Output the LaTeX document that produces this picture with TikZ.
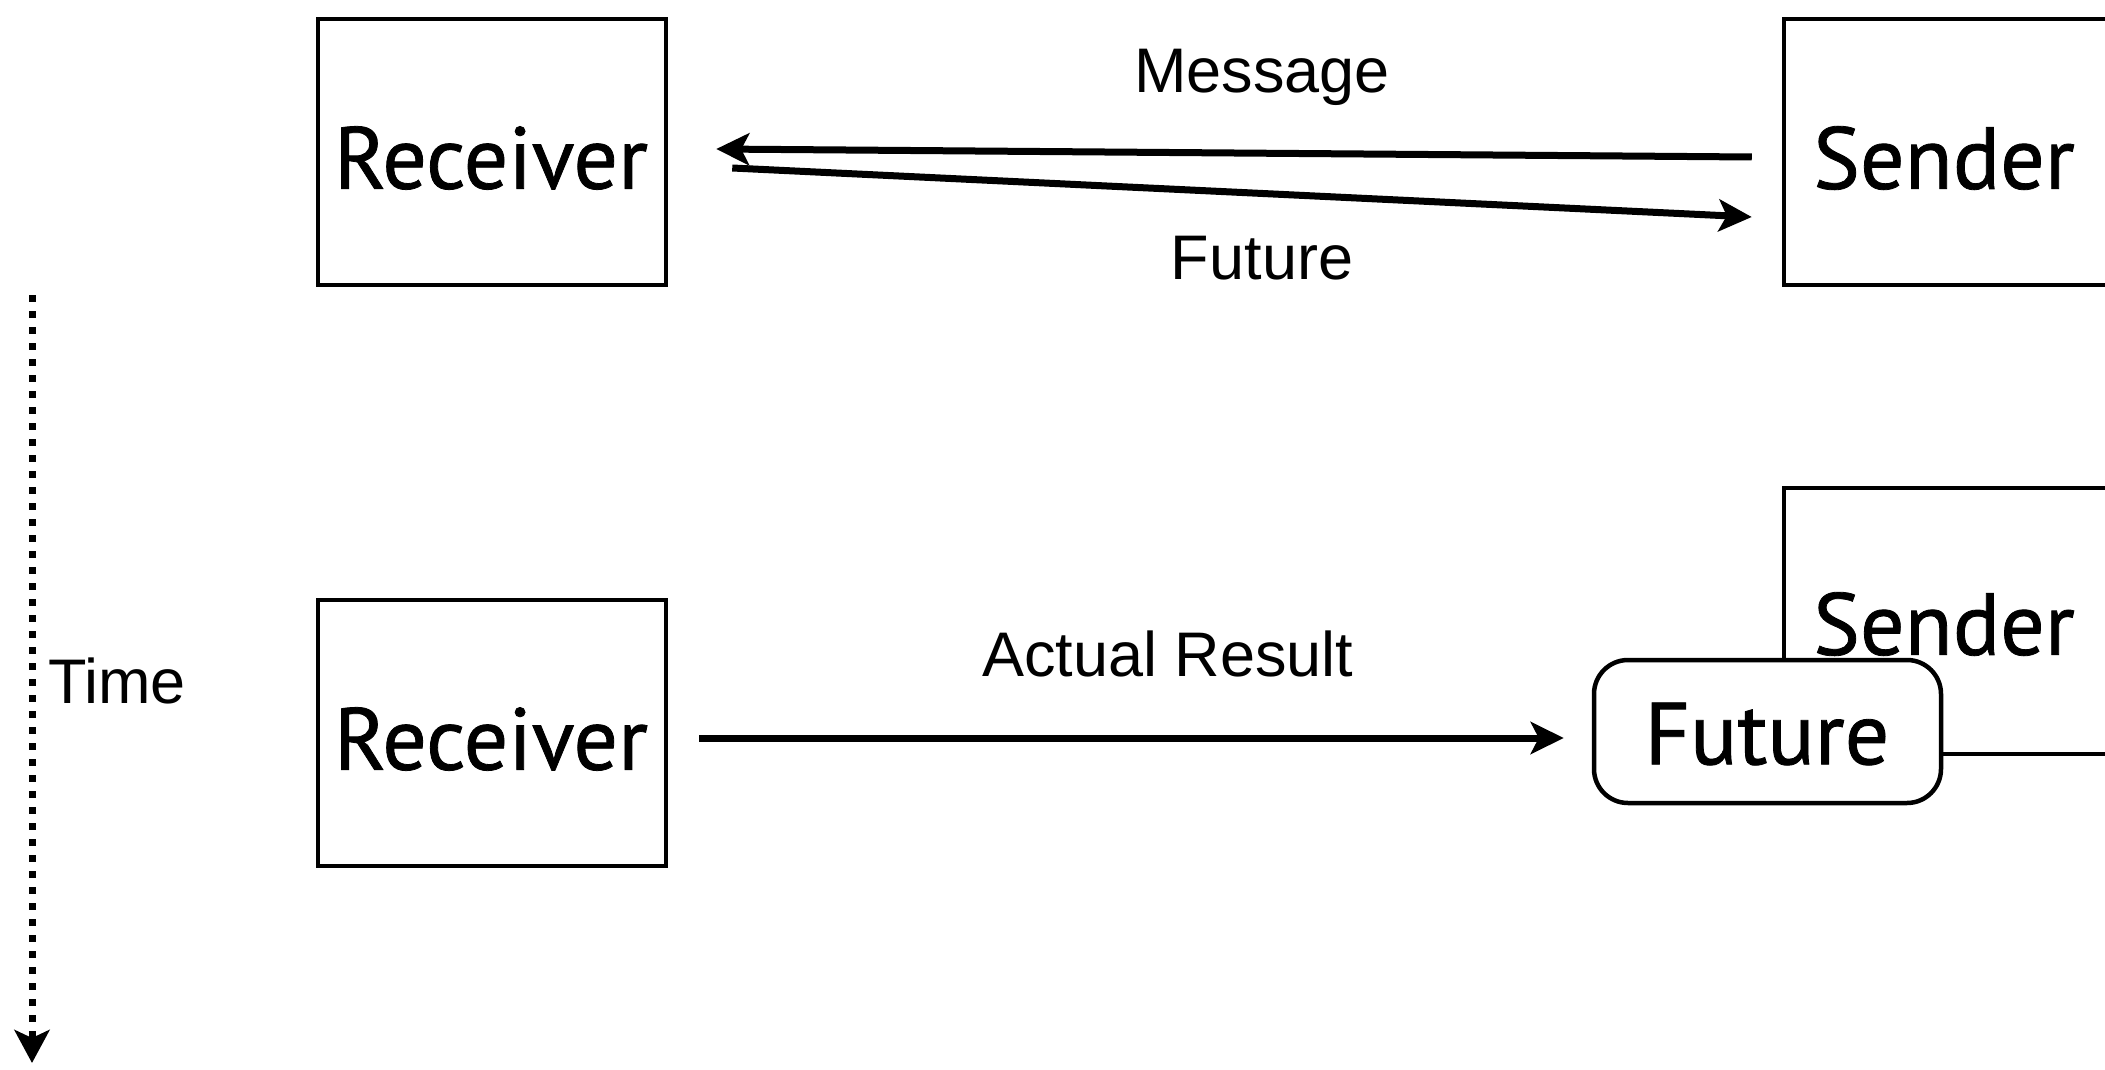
\documentclass[tikz,border=0pt]{standalone}
\usepackage{fontspec}
\setmainfont{Liberation Sans}
\newfontfamily\gillfont[FakeBold=0.9]{PT Sans}
\usetikzlibrary{arrows.meta,calc}
\tikzset{
  boxst/.style={draw, line width=4.5pt, minimum width=348pt, minimum height=266pt, inner sep=0pt, fill=white},
  futbox/.style={draw, line width=4.5pt, rounded corners=34pt, minimum width=347pt, minimum height=143pt, inner sep=0pt, fill=white},
  bigtxt/.style={font=\gillfont\fontsize{88}{88}\selectfont, inner sep=0pt, text=black},
  lbl/.style={font=\fontsize{63}{63}\selectfont, inner sep=0pt},
  conn/.style={line width=7pt, -{Stealth[length=33pt,width=32pt,inset=8pt]}},
  timeline/.style={line width=7pt, dash pattern=on 7pt off 9pt, -{Stealth[length=33pt,width=35pt,inset=8pt]}},
}
\begin{document}
\begin{tikzpicture}[x=1pt,y=-1pt]
\useasboundingbox (0,0) rectangle (2105,1070);
\clip (0,0) rectangle (2105,1070);
\fill[white] (0,0) rectangle (2105,1070);
% top row
\node[boxst] (r1) at (492,152) {};
\node[boxst] (s1) at (1958,152) {};
\node[bigtxt] (r1t) at (491,158) {Receiver};
\node[bigtxt] (s1t) at (1944,158) {Sender};
\draw[conn] ($(s1.west)+(-30,5)$) -- ($(r1.east)+(48,-3)$);
\draw[conn] ($(r1.east)+(64,16)$) -- ($(s1.west)+(-30,65)$);
\node[lbl] (msg) at (1262,77) {Message};
\node[lbl] (fut) at (1262,258) {Future};
% bottom row
\node[boxst] (r2) at (492,733) {};
\node[boxst] (s2) at (1958,621) {};
\node[bigtxt] (r2t) at (491,739) {Receiver};
\node[bigtxt] (s2t) at (1944,624) {Sender};
\node[futbox] (f) at (1767.5,731.5) {};
\node[bigtxt] (ft) at (1767,734) {Future};
\draw[conn] ($(r2.east)+(31,5)$) -- ($(f.west)+(-28,6.5)$);
\node[lbl] (act) at (1168,654) {Actual Result};
% time axis
\coordinate (t0) at (32,295);
\coordinate (t1) at (32,1063);
\draw[timeline] (t0) -- (t1);
\node[lbl, anchor=west] (time) at (48,681) {Time};
\end{tikzpicture}
\end{document}
